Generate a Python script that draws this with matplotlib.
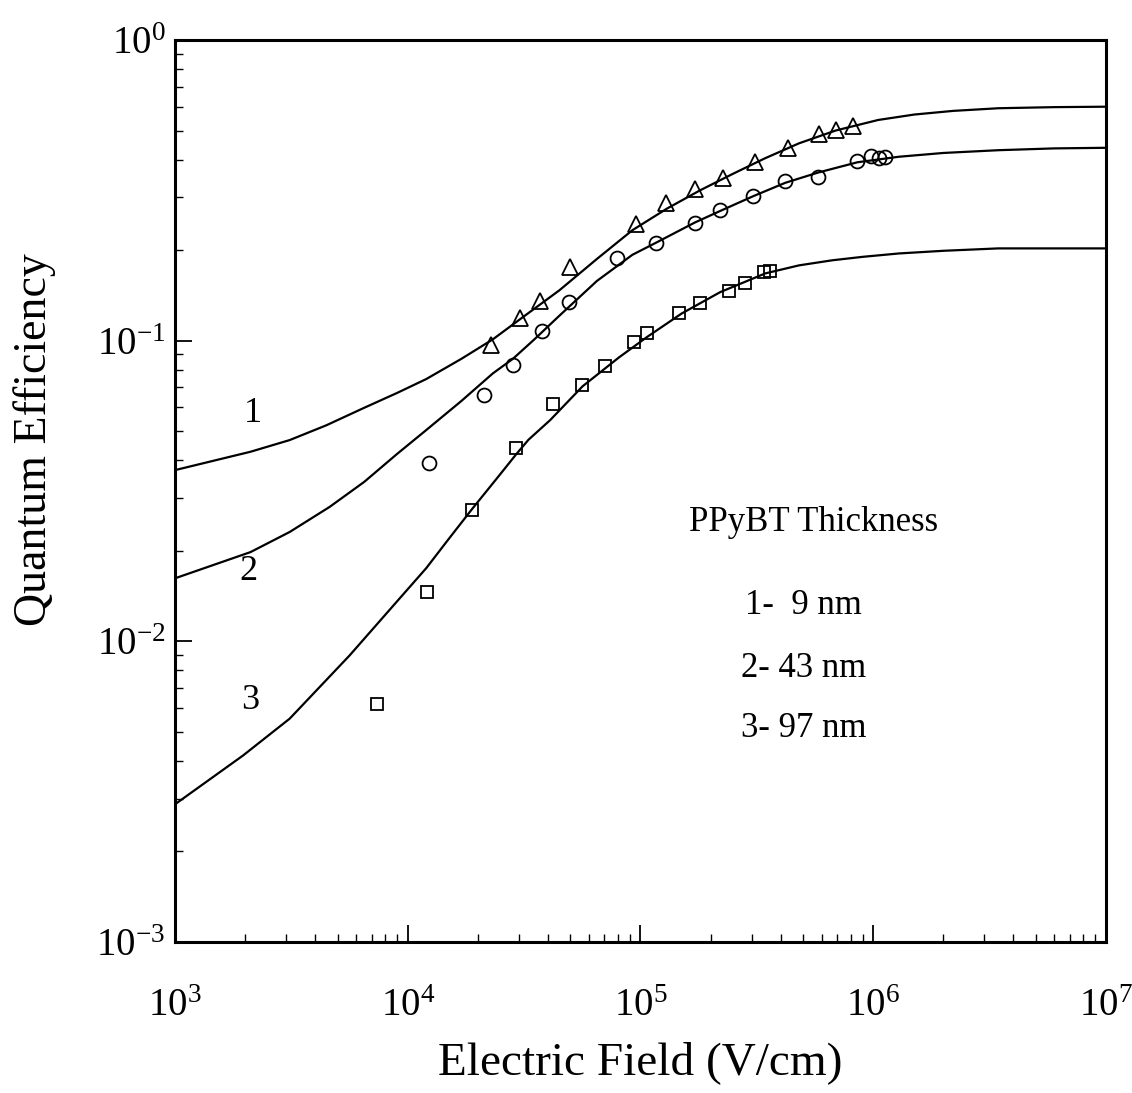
import numpy as np
import matplotlib
matplotlib.use("Agg")
import matplotlib.pyplot as plt

plt.rcParams['font.family'] = ['Liberation Serif', 'DejaVu Serif']
plt.rcParams['mathtext.fontset'] = 'custom'
plt.rcParams['mathtext.rm'] = 'Liberation Serif'
plt.rcParams['mathtext.it'] = 'Liberation Serif:italic'
plt.rcParams['mathtext.default'] = 'regular'

# data points
# curve 1 (9 nm) - triangles
field_1 = [2.27e4, 3.03e4, 3.71e4, 5.0e4, 9.53e4, 1.29e5, 1.71e5, 2.27e5,
           3.12e5, 4.29e5, 5.86e5, 6.91e5, 8.22e5]
qe_1 = [0.0966, 0.1186, 0.1357, 0.176, 0.244, 0.288, 0.319, 0.347,
        0.392, 0.436, 0.487, 0.502, 0.519]

# curve 2 (43 nm) - circles
field_2 = [1.24e4, 2.12e4, 2.82e4, 3.79e4, 4.93e4, 7.91e4, 1.17e5, 1.71e5,
           2.20e5, 3.04e5, 4.19e5, 5.77e5, 8.55e5, 9.77e5, 1.06e6, 1.12e6]
qe_2 = [0.0392, 0.066, 0.0831, 0.1076, 0.1346, 0.1877, 0.2106, 0.2455,
        0.2718, 0.303, 0.340, 0.349, 0.396, 0.411, 0.404, 0.409]

# curve 3 (97 nm) - squares
field_3 = [7.36e3, 1.21e4, 1.88e4, 2.91e4, 4.21e4, 5.58e4, 7.03e4, 9.37e4,
           1.07e5, 1.47e5, 1.81e5, 2.39e5, 2.81e5, 3.38e5, 3.61e5]
qe_3 = [0.00617, 0.01459, 0.0274, 0.0438, 0.0615, 0.0711, 0.0822, 0.0986,
        0.1062, 0.1232, 0.1336, 0.146, 0.155, 0.1686, 0.1707]

# fitted lines
fit_x1 = [1e3, 2.11e3, 3.11e3, 4.47e3, 6.5e3, 9e3, 1.2e4, 1.7e4, 2.32e4,
          3.0e4, 4.48e4, 6.5e4, 9.23e4, 1.3e5, 1.8e5, 2.48e5, 3.4e5, 4.79e5,
          6.9e5, 1.05e6, 1.5e6, 2.2e6, 3.45e6, 6e6, 1e7]
fit_y1 = [0.0371, 0.0427, 0.0467, 0.0523, 0.0598, 0.067, 0.0745, 0.087, 0.101,
          0.117, 0.147, 0.187, 0.233, 0.275, 0.316, 0.358, 0.403, 0.453,
          0.50, 0.542, 0.565, 0.581, 0.593, 0.598, 0.60]
fit_x2 = [1e3, 2.11e3, 3.11e3, 4.62e3, 6.5e3, 9e3, 1.2e4, 1.7e4, 2.32e4,
          2.83e4, 3.5e4, 4.48e4, 6.5e4, 9.23e4, 1.17e5, 1.71e5, 2.2e5, 3.04e5,
          4.19e5, 5.77e5, 8.55e5, 1.29e6, 2e6, 3.45e6, 6e6, 1e7]
fit_y2 = [0.0162, 0.0198, 0.0231, 0.028, 0.0339, 0.042, 0.0504, 0.063, 0.0778,
          0.087, 0.101, 0.121, 0.158, 0.193, 0.212, 0.247, 0.27, 0.302,
          0.335, 0.362, 0.392, 0.409, 0.421, 0.430, 0.436, 0.438]
fit_x3 = [1e3, 1.96e3, 3.11e3, 5.63e3, 9.08e3, 1.2e4, 1.5e4, 1.88e4, 2.5e4,
          2.91e4, 3.3e4, 4.09e4, 5.64e4, 8.09e4, 1.07e5, 1.5e5, 2.2e5, 3.44e5,
          4.8e5, 6.65e5, 9e5, 1.29e6, 2e6, 3.45e6, 1e7]
fit_y3 = [0.00287, 0.00417, 0.00553, 0.00898, 0.01369, 0.0175, 0.0219, 0.0274,
          0.036, 0.0417, 0.0468, 0.0544, 0.0705, 0.088, 0.103, 0.123, 0.145,
          0.1674, 0.178, 0.185, 0.19, 0.195, 0.199, 0.2027, 0.2027]

legend_lines = ["1-  9 nm", "2- 43 nm", "3- 97 nm"]

fig = plt.figure(figsize=(11.32, 10.93), dpi=100)
ax = fig.add_axes([0.1546, 0.1382, 0.8224, 0.8252])

ax.plot(fit_x1, fit_y1, color='black', lw=1.6)
ax.plot(fit_x2, fit_y2, color='black', lw=1.6)
ax.plot(fit_x3, fit_y3, color='black', lw=1.6)

ax.plot(field_1, qe_1, '^', ms=11, mfc='none', mec='black', mew=1.3)
ax.plot(field_2, qe_2, 'o', ms=10, mfc='none', mec='black', mew=1.3)
ax.plot(field_3, qe_3, 's', ms=9, mfc='none', mec='black', mew=1.3)

ax.set_xscale('log')
ax.set_yscale('log')
ax.set_xlim(1e3, 1e7)
ax.set_ylim(1e-3, 1e0)

# curve numbers
ax.text(2.17e3, 0.0574, "1", fontsize=26, ha='center', va='center')
ax.text(2.07e3, 0.0171, "2", fontsize=26, ha='center', va='center')
ax.text(2.11e3, 0.00636, "3", fontsize=26, ha='center', va='center')

ax.text(0.686, 0.4645, "PPyBT Thickness", fontsize=25, ha='center',
        va='center', transform=ax.transAxes)
ypos = [0.3735, 0.3035, 0.237]
for lbl, yy in zip(legend_lines, ypos):
    ax.text(0.675, yy, lbl, fontsize=25, ha='center', va='center',
            transform=ax.transAxes)

ax.set_xlabel("Electric Field (V/cm)", fontsize=34, labelpad=12)
ax.set_ylabel("Quantum Efficiency", fontsize=33)
ax.yaxis.set_label_coords(-0.128, 0.557)

ax.tick_params(which='both', direction='in', top=False, right=False,
               labelsize=28)
ax.tick_params(which='major', length=12, width=1.3)
ax.tick_params(which='minor', length=6, width=1.0)
ax.tick_params(axis='x', which='major', pad=33)
ax.tick_params(axis='y', which='major', pad=7)
for s in ax.spines.values():
    s.set_linewidth(2.2)

fig.savefig("out.png", dpi=100)
